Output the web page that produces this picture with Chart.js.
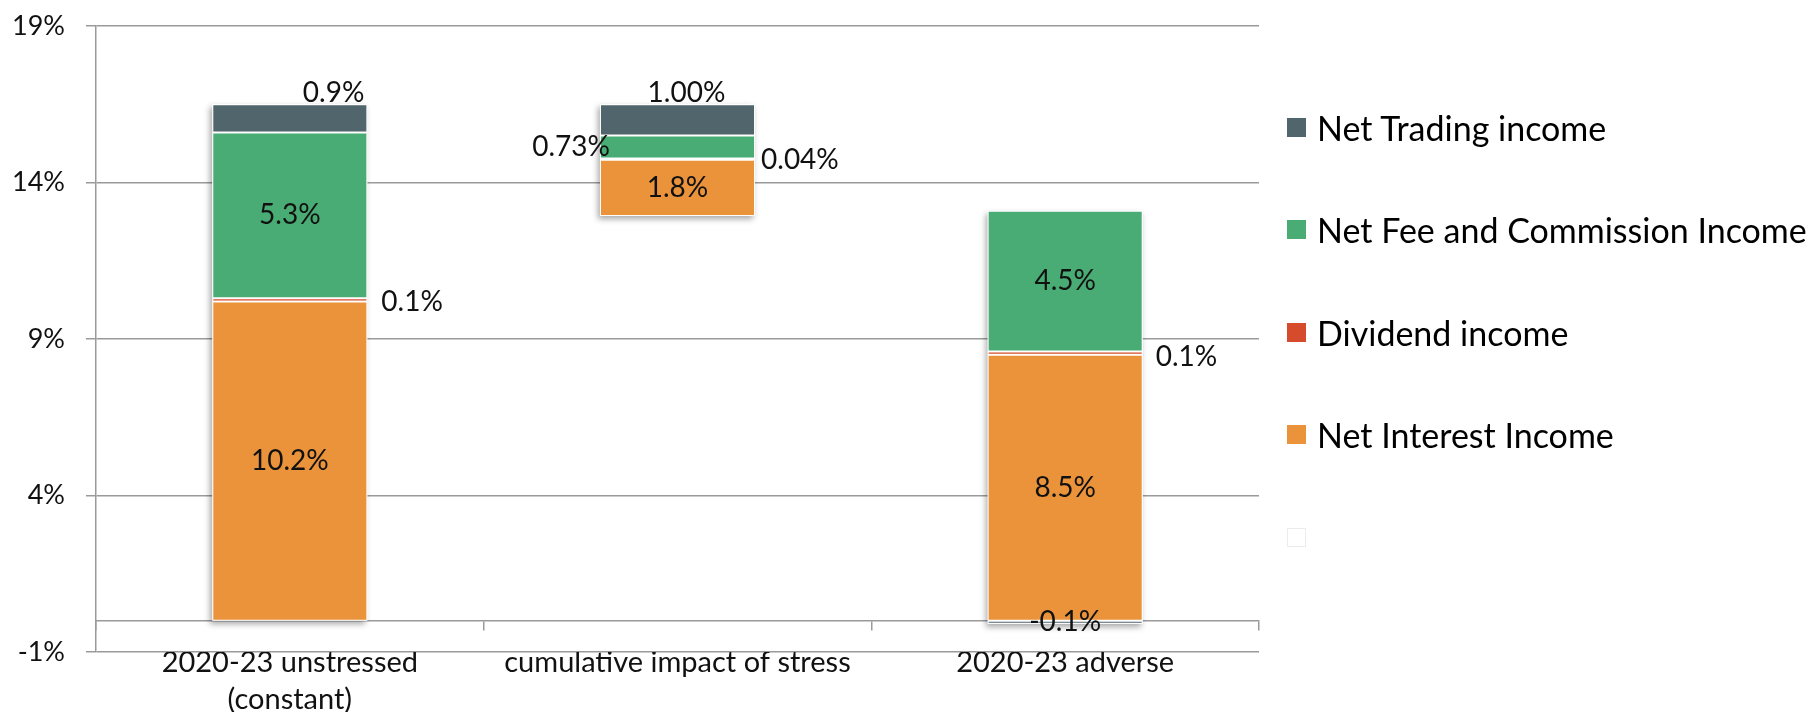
<!DOCTYPE html>
<html><head><meta charset="utf-8">
<script src="https://cdn.jsdelivr.net/npm/chart.js@4.4.1/dist/chart.umd.min.js"></script>
<style>
html,body{margin:0;padding:0;background:#fff;overflow:hidden}
#wrap{position:relative;width:1816px;height:712px}
#c{position:absolute;left:0;top:0}
.li{position:absolute;left:1287px;height:40px;display:flex;align-items:center;white-space:nowrap;color:#000}
.sw{width:19px;height:19px;box-sizing:border-box;margin-right:11px;flex:none}
</style></head><body>
<div id="wrap"><canvas id="c" width="1816" height="712"></canvas><div id="legend"></div></div>
<script>
// ---- data ----
const categories = [['2020-23 unstressed', '(constant)'], 'cumulative impact of stress', '2020-23 adverse'];
const baseValues = [0, 12.93, 0];
const netInterestIncome = [10.2, 1.8, 8.5];
const dividendIncome = [0.1, 0.04, 0.1];
const netFeeCommissionIncome = [5.3, 0.73, 4.5];
const netTradingIncome = [0.9, 1.0, -0.1];
const yMin = -1, yMax = 19, yStep = 5;

const FONT = 'Lato';
const TXT = '#111';
const GRID = '#9a9a9a';

const labelSpec = {
  trading:  [{pos:'aboveRight', d:1}, {pos:'above', d:2, dx:9}, {pos:'center', d:1}],
  fee:      [{pos:'center', d:1}, {pos:'left', d:2}, {pos:'center', d:1}],
  dividend: [{pos:'right', d:1, dx:14, dy:2}, {pos:'right', d:2, dx:6, dy:1}, {pos:'right', d:1, dx:13, dy:4}],
  nii:      [{pos:'center', d:1}, {pos:'center', d:1}, {pos:'center', d:1}]
};

const shadowPlugin = {
  id: 'stackShadow',
  beforeDatasetsDraw(chart) {
    const ctx = chart.ctx;
    ctx.save();
    chart.data.labels.forEach((_, i) => {
      let top = Infinity, bot = -Infinity, x = 0, w = 0;
      chart.data.datasets.forEach((ds, di) => {
        if (ds.isBase) return;
        const el = chart.getDatasetMeta(di).data[i];
        if (!el) return;
        const p = el.getProps(['x', 'y', 'base', 'width'], true);
        top = Math.min(top, p.y, p.base); bot = Math.max(bot, p.y, p.base); x = p.x; w = p.width;
      });
      ctx.shadowColor = 'rgba(0,0,0,0.35)';
      ctx.shadowBlur = 6; ctx.shadowOffsetX = -2; ctx.shadowOffsetY = 3;
      ctx.fillStyle = '#fff';
      ctx.fillRect(x - w / 2, top, w, bot - top);
    });
    ctx.restore();
  }
};

const labelPlugin = {
  id: 'segLabels',
  afterDatasetsDraw(chart) {
    const ctx = chart.ctx;
    ctx.save();
    ctx.font = '28px ' + FONT;
    ctx.fillStyle = TXT;
    ctx.textBaseline = 'middle';
    chart.data.datasets.forEach((ds, di) => {
      if (ds.isBase) return;
      const meta = chart.getDatasetMeta(di);
      meta.data.forEach((el, i) => {
        const spec = labelSpec[ds.key][i];
        const p = el.getProps(['x', 'y', 'base', 'width'], true);
        const v = ds.data[i];
        const txt = v.toFixed(spec.d) + '%';
        const top = Math.min(p.y, p.base), bot = Math.max(p.y, p.base), mid = (top + bot) / 2;
        const dx = spec.dx || 0, dy = spec.dy || 0;
        let x, y, align;
        if (spec.pos === 'center') { x = p.x; y = mid; align = 'center'; }
        else if (spec.pos === 'right') { x = p.x + p.width / 2 + dx; y = mid + dy; align = 'left'; }
        else if (spec.pos === 'left') { x = p.x - p.width / 2 + 10; y = mid; align = 'right'; }
        else if (spec.pos === 'aboveRight') { x = p.x + p.width / 2 - 3; y = top - 11; align = 'right'; }
        else { x = p.x + dx; y = top - 11; align = 'center'; }
        ctx.textAlign = align;
        ctx.fillText(txt, x, y);
      });
    });
    ctx.restore();
  }
};

const chart = new Chart(document.getElementById('c'), {
  type: 'bar',
  data: {
    labels: categories,
    datasets: [
      {label: '', key: 'base', isBase: true, data: baseValues, backgroundColor: 'rgba(255,255,255,0)', borderWidth: 0, legendFill: '#ffffff', legendStroke: '#ececec'},
      {label: 'Net Interest Income', key: 'nii', data: netInterestIncome, backgroundColor: '#EA933B'},
      {label: 'Dividend income', key: 'dividend', data: dividendIncome, backgroundColor: '#D64B2B'},
      {label: 'Net Fee and Commission Income', key: 'fee', data: netFeeCommissionIncome, backgroundColor: '#49AC74'},
      {label: 'Net Trading income', key: 'trading', data: netTradingIncome, backgroundColor: '#51656C'}
    ]
  },
  options: {
    responsive: false,
    animation: false,
    layout: {padding: {top: 26, right: 557, bottom: 0, left: 0}},
    datasets: {bar: {barPercentage: 0.4, categoryPercentage: 1, borderColor: '#ffffff', borderWidth: 1, borderSkipped: false}},
    plugins: {legend: {display: false}, tooltip: {enabled: false}},
    scales: {
      x: {
        stacked: true,
        position: 'bottom',
        grid: {display: false, drawTicks: false},
        border: {display: false},
        ticks: {padding: -8, color: TXT, font: {family: FONT, size: 29, lineHeight: 37 / 29}, maxRotation: 0, autoSkip: false},
        afterFit(s) { s.height = 60; }
      },
      x2: {
        type: 'category',
        position: {y: 0},
        offset: true,
        grid: {drawOnChartArea: false, drawTicks: true, tickLength: 9, color: GRID, lineWidth: 1.5, offset: true},
        border: {display: true, color: GRID, width: 1.5},
        ticks: {display: false}
      },
      y: {
        stacked: true,
        min: yMin, max: yMax,
        ticks: {stepSize: yStep, padding: 21, color: TXT, font: {family: FONT, size: 27, lineHeight: 0.3}, callback: v => v + '%'},
        grid: {color: GRID, lineWidth: 1.5, tickLength: 10, drawTicks: true},
        border: {display: true, color: GRID, width: 1.5},
        afterFit(s) { s.width = 96; }
      }
    }
  },
  plugins: [shadowPlugin, labelPlugin]
});

// HTML legend built from the chart's datasets (reverse order, like the original)
const legend = document.getElementById('legend');
chart.data.datasets.slice().reverse().forEach((ds, i) => {
  const item = document.createElement('div');
  item.className = 'li';
  item.style.top = (127 + i * 102.5 - 20) + 'px';
  item.style.font = '34px ' + FONT;
  const sw = document.createElement('span');
  sw.className = 'sw';
  sw.style.background = ds.isBase ? ds.legendFill : ds.backgroundColor;
  if (ds.isBase) sw.style.border = '1px solid ' + ds.legendStroke;
  item.appendChild(sw);
  const t = document.createElement('span');
  t.textContent = ds.label;
  item.appendChild(t);
  legend.appendChild(item);
});
</script>
</body></html>
